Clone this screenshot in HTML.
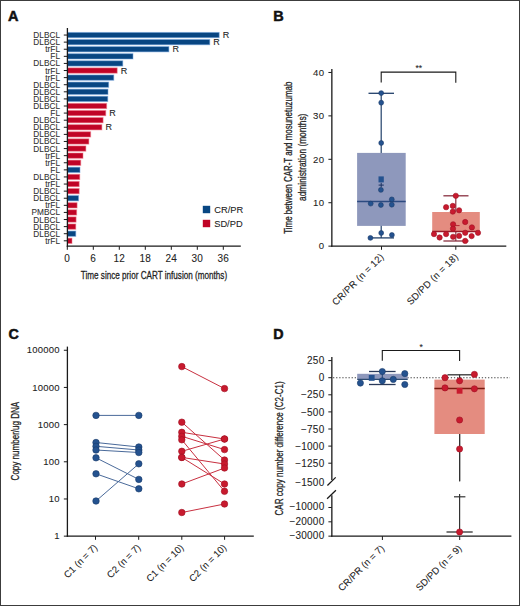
<!DOCTYPE html>
<html><head><meta charset="utf-8"><style>
html,body{margin:0;padding:0;background:#fff;}
body{width:520px;height:606px;overflow:hidden;position:relative;}
svg{position:absolute;left:0;top:0;}
text{font-family:"Liberation Sans",sans-serif;}
</style></head><body>
<svg width="520" height="606" viewBox="0 0 520 606">
<rect x="0" y="0" width="520" height="606" fill="#fff"/>
<text transform="translate(8.00,20.80)" font-size="14.5" text-anchor="start" fill="#111" stroke="#111" stroke-width="0.5" font-weight="bold">A</text>
<rect x="67.40" y="32.40" width="151.80" height="5.30" fill="#084682" stroke="#7aa8e0" stroke-width="0.9" stroke-opacity="0.6"/>
<line x1="63.80" y1="35.05" x2="67.40" y2="35.05" stroke="#1a1a1a" stroke-width="1.0"/>
<text transform="translate(60.00,38.05) scale(0.9300,1)" font-size="8.9" text-anchor="end" fill="#303030" stroke="#303030" stroke-width="0.08">DLBCL</text>
<text transform="translate(222.70,38.25)" font-size="9" text-anchor="start" fill="#222" stroke="#222" stroke-width="0.08">R</text>
<rect x="67.40" y="39.49" width="142.40" height="5.30" fill="#084682" stroke="#7aa8e0" stroke-width="0.9" stroke-opacity="0.6"/>
<line x1="63.80" y1="42.14" x2="67.40" y2="42.14" stroke="#1a1a1a" stroke-width="1.0"/>
<text transform="translate(60.00,45.14) scale(0.9300,1)" font-size="8.9" text-anchor="end" fill="#303030" stroke="#303030" stroke-width="0.08">DLBCL</text>
<text transform="translate(213.30,45.34)" font-size="9" text-anchor="start" fill="#222" stroke="#222" stroke-width="0.08">R</text>
<rect x="67.40" y="46.59" width="101.50" height="5.30" fill="#084682" stroke="#7aa8e0" stroke-width="0.9" stroke-opacity="0.6"/>
<line x1="63.80" y1="49.24" x2="67.40" y2="49.24" stroke="#1a1a1a" stroke-width="1.0"/>
<text transform="translate(60.00,52.24) scale(0.9300,1)" font-size="8.9" text-anchor="end" fill="#303030" stroke="#303030" stroke-width="0.08">trFL</text>
<text transform="translate(172.40,52.44)" font-size="9" text-anchor="start" fill="#222" stroke="#222" stroke-width="0.08">R</text>
<rect x="67.40" y="53.69" width="65.60" height="5.30" fill="#084682" stroke="#7aa8e0" stroke-width="0.9" stroke-opacity="0.6"/>
<line x1="63.80" y1="56.34" x2="67.40" y2="56.34" stroke="#1a1a1a" stroke-width="1.0"/>
<text transform="translate(60.00,59.34) scale(0.9300,1)" font-size="8.9" text-anchor="end" fill="#303030" stroke="#303030" stroke-width="0.08">FL</text>
<rect x="67.40" y="60.78" width="55.40" height="5.30" fill="#084682" stroke="#7aa8e0" stroke-width="0.9" stroke-opacity="0.6"/>
<line x1="63.80" y1="63.43" x2="67.40" y2="63.43" stroke="#1a1a1a" stroke-width="1.0"/>
<text transform="translate(60.00,66.43) scale(0.9300,1)" font-size="8.9" text-anchor="end" fill="#303030" stroke="#303030" stroke-width="0.08">DLBCL</text>
<rect x="67.40" y="67.88" width="49.80" height="5.30" fill="#c00426" stroke="#f08090" stroke-width="0.9" stroke-opacity="0.6"/>
<line x1="63.80" y1="70.53" x2="67.40" y2="70.53" stroke="#1a1a1a" stroke-width="1.0"/>
<text transform="translate(60.00,73.53) scale(0.9300,1)" font-size="8.9" text-anchor="end" fill="#303030" stroke="#303030" stroke-width="0.08">trFL</text>
<text transform="translate(120.70,73.73)" font-size="9" text-anchor="start" fill="#222" stroke="#222" stroke-width="0.08">R</text>
<rect x="67.40" y="74.97" width="46.40" height="5.30" fill="#084682" stroke="#7aa8e0" stroke-width="0.9" stroke-opacity="0.6"/>
<line x1="63.80" y1="77.62" x2="67.40" y2="77.62" stroke="#1a1a1a" stroke-width="1.0"/>
<text transform="translate(60.00,80.62) scale(0.9300,1)" font-size="8.9" text-anchor="end" fill="#303030" stroke="#303030" stroke-width="0.08">trFL</text>
<rect x="67.40" y="82.06" width="41.30" height="5.30" fill="#084682" stroke="#7aa8e0" stroke-width="0.9" stroke-opacity="0.6"/>
<line x1="63.80" y1="84.72" x2="67.40" y2="84.72" stroke="#1a1a1a" stroke-width="1.0"/>
<text transform="translate(60.00,87.72) scale(0.9300,1)" font-size="8.9" text-anchor="end" fill="#303030" stroke="#303030" stroke-width="0.08">DLBCL</text>
<rect x="67.40" y="89.16" width="40.60" height="5.30" fill="#084682" stroke="#7aa8e0" stroke-width="0.9" stroke-opacity="0.6"/>
<line x1="63.80" y1="91.81" x2="67.40" y2="91.81" stroke="#1a1a1a" stroke-width="1.0"/>
<text transform="translate(60.00,94.81) scale(0.9300,1)" font-size="8.9" text-anchor="end" fill="#303030" stroke="#303030" stroke-width="0.08">DLBCL</text>
<rect x="67.40" y="96.25" width="40.40" height="5.30" fill="#084682" stroke="#7aa8e0" stroke-width="0.9" stroke-opacity="0.6"/>
<line x1="63.80" y1="98.91" x2="67.40" y2="98.91" stroke="#1a1a1a" stroke-width="1.0"/>
<text transform="translate(60.00,101.91) scale(0.9300,1)" font-size="8.9" text-anchor="end" fill="#303030" stroke="#303030" stroke-width="0.08">DLBCL</text>
<rect x="67.40" y="103.35" width="39.30" height="5.30" fill="#c00426" stroke="#f08090" stroke-width="0.9" stroke-opacity="0.6"/>
<line x1="63.80" y1="106.00" x2="67.40" y2="106.00" stroke="#1a1a1a" stroke-width="1.0"/>
<text transform="translate(60.00,109.00) scale(0.9300,1)" font-size="8.9" text-anchor="end" fill="#303030" stroke="#303030" stroke-width="0.08">DLBCL</text>
<rect x="67.40" y="110.44" width="38.40" height="5.30" fill="#c00426" stroke="#f08090" stroke-width="0.9" stroke-opacity="0.6"/>
<line x1="63.80" y1="113.09" x2="67.40" y2="113.09" stroke="#1a1a1a" stroke-width="1.0"/>
<text transform="translate(60.00,116.09) scale(0.9300,1)" font-size="8.9" text-anchor="end" fill="#303030" stroke="#303030" stroke-width="0.08">FL</text>
<text transform="translate(109.30,116.30)" font-size="9" text-anchor="start" fill="#222" stroke="#222" stroke-width="0.08">R</text>
<rect x="67.40" y="117.54" width="35.70" height="5.30" fill="#c00426" stroke="#f08090" stroke-width="0.9" stroke-opacity="0.6"/>
<line x1="63.80" y1="120.19" x2="67.40" y2="120.19" stroke="#1a1a1a" stroke-width="1.0"/>
<text transform="translate(60.00,123.19) scale(0.9300,1)" font-size="8.9" text-anchor="end" fill="#303030" stroke="#303030" stroke-width="0.08">DLBCL</text>
<rect x="67.40" y="124.63" width="34.50" height="5.30" fill="#c00426" stroke="#f08090" stroke-width="0.9" stroke-opacity="0.6"/>
<line x1="63.80" y1="127.28" x2="67.40" y2="127.28" stroke="#1a1a1a" stroke-width="1.0"/>
<text transform="translate(60.00,130.28) scale(0.9300,1)" font-size="8.9" text-anchor="end" fill="#303030" stroke="#303030" stroke-width="0.08">DLBCL</text>
<text transform="translate(105.40,130.48)" font-size="9" text-anchor="start" fill="#222" stroke="#222" stroke-width="0.08">R</text>
<rect x="67.40" y="131.73" width="23.30" height="5.30" fill="#c00426" stroke="#f08090" stroke-width="0.9" stroke-opacity="0.6"/>
<line x1="63.80" y1="134.38" x2="67.40" y2="134.38" stroke="#1a1a1a" stroke-width="1.0"/>
<text transform="translate(60.00,137.38) scale(0.9300,1)" font-size="8.9" text-anchor="end" fill="#303030" stroke="#303030" stroke-width="0.08">DLBCL</text>
<rect x="67.40" y="138.82" width="21.50" height="5.30" fill="#c00426" stroke="#f08090" stroke-width="0.9" stroke-opacity="0.6"/>
<line x1="63.80" y1="141.47" x2="67.40" y2="141.47" stroke="#1a1a1a" stroke-width="1.0"/>
<text transform="translate(60.00,144.47) scale(0.9300,1)" font-size="8.9" text-anchor="end" fill="#303030" stroke="#303030" stroke-width="0.08">DLBCL</text>
<rect x="67.40" y="145.92" width="18.50" height="5.30" fill="#c00426" stroke="#f08090" stroke-width="0.9" stroke-opacity="0.6"/>
<line x1="63.80" y1="148.57" x2="67.40" y2="148.57" stroke="#1a1a1a" stroke-width="1.0"/>
<text transform="translate(60.00,151.57) scale(0.9300,1)" font-size="8.9" text-anchor="end" fill="#303030" stroke="#303030" stroke-width="0.08">DLBCL</text>
<rect x="67.40" y="153.01" width="15.60" height="5.30" fill="#c00426" stroke="#f08090" stroke-width="0.9" stroke-opacity="0.6"/>
<line x1="63.80" y1="155.66" x2="67.40" y2="155.66" stroke="#1a1a1a" stroke-width="1.0"/>
<text transform="translate(60.00,158.66) scale(0.9300,1)" font-size="8.9" text-anchor="end" fill="#303030" stroke="#303030" stroke-width="0.08">trFL</text>
<rect x="67.40" y="160.11" width="13.40" height="5.30" fill="#c00426" stroke="#f08090" stroke-width="0.9" stroke-opacity="0.6"/>
<line x1="63.80" y1="162.76" x2="67.40" y2="162.76" stroke="#1a1a1a" stroke-width="1.0"/>
<text transform="translate(60.00,165.76) scale(0.9300,1)" font-size="8.9" text-anchor="end" fill="#303030" stroke="#303030" stroke-width="0.08">trFL</text>
<rect x="67.40" y="167.21" width="12.60" height="5.30" fill="#084682" stroke="#7aa8e0" stroke-width="0.9" stroke-opacity="0.6"/>
<line x1="63.80" y1="169.86" x2="67.40" y2="169.86" stroke="#1a1a1a" stroke-width="1.0"/>
<text transform="translate(60.00,172.86) scale(0.9300,1)" font-size="8.9" text-anchor="end" fill="#303030" stroke="#303030" stroke-width="0.08">FL</text>
<rect x="67.40" y="174.30" width="12.40" height="5.30" fill="#c00426" stroke="#f08090" stroke-width="0.9" stroke-opacity="0.6"/>
<line x1="63.80" y1="176.95" x2="67.40" y2="176.95" stroke="#1a1a1a" stroke-width="1.0"/>
<text transform="translate(60.00,179.95) scale(0.9300,1)" font-size="8.9" text-anchor="end" fill="#303030" stroke="#303030" stroke-width="0.08">DLBCL</text>
<rect x="67.40" y="181.40" width="11.80" height="5.30" fill="#c00426" stroke="#f08090" stroke-width="0.9" stroke-opacity="0.6"/>
<line x1="63.80" y1="184.05" x2="67.40" y2="184.05" stroke="#1a1a1a" stroke-width="1.0"/>
<text transform="translate(60.00,187.05) scale(0.9300,1)" font-size="8.9" text-anchor="end" fill="#303030" stroke="#303030" stroke-width="0.08">trFL</text>
<rect x="67.40" y="188.49" width="11.80" height="5.30" fill="#c00426" stroke="#f08090" stroke-width="0.9" stroke-opacity="0.6"/>
<line x1="63.80" y1="191.14" x2="67.40" y2="191.14" stroke="#1a1a1a" stroke-width="1.0"/>
<text transform="translate(60.00,194.14) scale(0.9300,1)" font-size="8.9" text-anchor="end" fill="#303030" stroke="#303030" stroke-width="0.08">DLBCL</text>
<rect x="67.40" y="195.59" width="11.20" height="5.30" fill="#084682" stroke="#7aa8e0" stroke-width="0.9" stroke-opacity="0.6"/>
<line x1="63.80" y1="198.24" x2="67.40" y2="198.24" stroke="#1a1a1a" stroke-width="1.0"/>
<text transform="translate(60.00,201.24) scale(0.9300,1)" font-size="8.9" text-anchor="end" fill="#303030" stroke="#303030" stroke-width="0.08">DLBCL</text>
<rect x="67.40" y="202.68" width="9.70" height="5.30" fill="#c00426" stroke="#f08090" stroke-width="0.9" stroke-opacity="0.6"/>
<line x1="63.80" y1="205.33" x2="67.40" y2="205.33" stroke="#1a1a1a" stroke-width="1.0"/>
<text transform="translate(60.00,208.33) scale(0.9300,1)" font-size="8.9" text-anchor="end" fill="#303030" stroke="#303030" stroke-width="0.08">trFL</text>
<rect x="67.40" y="209.78" width="9.30" height="5.30" fill="#c00426" stroke="#f08090" stroke-width="0.9" stroke-opacity="0.6"/>
<line x1="63.80" y1="212.43" x2="67.40" y2="212.43" stroke="#1a1a1a" stroke-width="1.0"/>
<text transform="translate(60.00,215.43) scale(0.9300,1)" font-size="8.9" text-anchor="end" fill="#303030" stroke="#303030" stroke-width="0.08">PMBCL</text>
<rect x="67.40" y="216.87" width="8.70" height="5.30" fill="#c00426" stroke="#f08090" stroke-width="0.9" stroke-opacity="0.6"/>
<line x1="63.80" y1="219.52" x2="67.40" y2="219.52" stroke="#1a1a1a" stroke-width="1.0"/>
<text transform="translate(60.00,222.52) scale(0.9300,1)" font-size="8.9" text-anchor="end" fill="#303030" stroke="#303030" stroke-width="0.08">DLBCL</text>
<rect x="67.40" y="223.97" width="8.40" height="5.30" fill="#c00426" stroke="#f08090" stroke-width="0.9" stroke-opacity="0.6"/>
<line x1="63.80" y1="226.62" x2="67.40" y2="226.62" stroke="#1a1a1a" stroke-width="1.0"/>
<text transform="translate(60.00,229.62) scale(0.9300,1)" font-size="8.9" text-anchor="end" fill="#303030" stroke="#303030" stroke-width="0.08">DLBCL</text>
<rect x="67.40" y="231.06" width="8.40" height="5.30" fill="#084682" stroke="#7aa8e0" stroke-width="0.9" stroke-opacity="0.6"/>
<line x1="63.80" y1="233.71" x2="67.40" y2="233.71" stroke="#1a1a1a" stroke-width="1.0"/>
<text transform="translate(60.00,236.71) scale(0.9300,1)" font-size="8.9" text-anchor="end" fill="#303030" stroke="#303030" stroke-width="0.08">DLBCL</text>
<rect x="67.40" y="238.16" width="4.60" height="5.30" fill="#c00426" stroke="#f08090" stroke-width="0.9" stroke-opacity="0.6"/>
<line x1="63.80" y1="240.81" x2="67.40" y2="240.81" stroke="#1a1a1a" stroke-width="1.0"/>
<text transform="translate(60.00,243.81) scale(0.9300,1)" font-size="8.9" text-anchor="end" fill="#303030" stroke="#303030" stroke-width="0.08">trFL</text>
<line x1="67.40" y1="28.00" x2="67.40" y2="246.80" stroke="#1a1a1a" stroke-width="1.3"/>
<line x1="66.80" y1="246.20" x2="240.80" y2="246.20" stroke="#1a1a1a" stroke-width="1.3"/>
<line x1="67.30" y1="246.20" x2="67.30" y2="249.80" stroke="#1a1a1a" stroke-width="1.0"/>
<text transform="translate(67.30,262.20)" font-size="10" text-anchor="middle" fill="#222" stroke="#222" stroke-width="0.08" letter-spacing="0.3">0</text>
<line x1="93.30" y1="246.20" x2="93.30" y2="249.80" stroke="#1a1a1a" stroke-width="1.0"/>
<text transform="translate(93.30,262.20)" font-size="10" text-anchor="middle" fill="#222" stroke="#222" stroke-width="0.08" letter-spacing="0.3">6</text>
<line x1="119.30" y1="246.20" x2="119.30" y2="249.80" stroke="#1a1a1a" stroke-width="1.0"/>
<text transform="translate(119.30,262.20)" font-size="10" text-anchor="middle" fill="#222" stroke="#222" stroke-width="0.08" letter-spacing="0.3">12</text>
<line x1="145.30" y1="246.20" x2="145.30" y2="249.80" stroke="#1a1a1a" stroke-width="1.0"/>
<text transform="translate(145.30,262.20)" font-size="10" text-anchor="middle" fill="#222" stroke="#222" stroke-width="0.08" letter-spacing="0.3">18</text>
<line x1="171.30" y1="246.20" x2="171.30" y2="249.80" stroke="#1a1a1a" stroke-width="1.0"/>
<text transform="translate(171.30,262.20)" font-size="10" text-anchor="middle" fill="#222" stroke="#222" stroke-width="0.08" letter-spacing="0.3">24</text>
<line x1="197.30" y1="246.20" x2="197.30" y2="249.80" stroke="#1a1a1a" stroke-width="1.0"/>
<text transform="translate(197.30,262.20)" font-size="10" text-anchor="middle" fill="#222" stroke="#222" stroke-width="0.08" letter-spacing="0.3">30</text>
<line x1="223.30" y1="246.20" x2="223.30" y2="249.80" stroke="#1a1a1a" stroke-width="1.0"/>
<text transform="translate(223.30,262.20)" font-size="10" text-anchor="middle" fill="#222" stroke="#222" stroke-width="0.08" letter-spacing="0.3">36</text>
<text transform="translate(80.80,278.80) scale(0.7083,1)" font-size="11.5" text-anchor="start" fill="#222" stroke="#222" stroke-width="0.28">Time since prior CART infusion (months)</text>
<rect x="202.80" y="205.80" width="7.40" height="7.40" fill="#084682"/>
<rect x="202.80" y="219.80" width="7.40" height="7.40" fill="#c00426"/>
<text transform="translate(214.20,212.80)" font-size="9.3" text-anchor="start" fill="#222" stroke="#222" stroke-width="0.08">CR/PR</text>
<text transform="translate(214.20,226.80)" font-size="9.3" text-anchor="start" fill="#222" stroke="#222" stroke-width="0.08">SD/PD</text>
<text transform="translate(273.30,20.80)" font-size="14.5" text-anchor="start" fill="#111" stroke="#111" stroke-width="0.5" font-weight="bold">B</text>
<line x1="331.85" y1="69.10" x2="331.85" y2="246.80" stroke="#1a1a1a" stroke-width="1.3"/>
<line x1="331.20" y1="246.20" x2="506.30" y2="246.20" stroke="#1a1a1a" stroke-width="1.3"/>
<line x1="328.40" y1="246.15" x2="331.80" y2="246.15" stroke="#1a1a1a" stroke-width="1.0"/>
<text transform="translate(324.40,249.45)" font-size="9.6" text-anchor="end" fill="#222" stroke="#222" stroke-width="0.08" letter-spacing="0.3">0</text>
<line x1="328.40" y1="202.73" x2="331.80" y2="202.73" stroke="#1a1a1a" stroke-width="1.0"/>
<text transform="translate(324.40,206.03)" font-size="9.6" text-anchor="end" fill="#222" stroke="#222" stroke-width="0.08" letter-spacing="0.3">10</text>
<line x1="328.40" y1="159.31" x2="331.80" y2="159.31" stroke="#1a1a1a" stroke-width="1.0"/>
<text transform="translate(324.40,162.61)" font-size="9.6" text-anchor="end" fill="#222" stroke="#222" stroke-width="0.08" letter-spacing="0.3">20</text>
<line x1="328.40" y1="115.89" x2="331.80" y2="115.89" stroke="#1a1a1a" stroke-width="1.0"/>
<text transform="translate(324.40,119.19)" font-size="9.6" text-anchor="end" fill="#222" stroke="#222" stroke-width="0.08" letter-spacing="0.3">30</text>
<line x1="328.40" y1="72.47" x2="331.80" y2="72.47" stroke="#1a1a1a" stroke-width="1.0"/>
<text transform="translate(324.40,75.77)" font-size="9.6" text-anchor="end" fill="#222" stroke="#222" stroke-width="0.08" letter-spacing="0.3">40</text>
<text transform="translate(292.00,157.70) rotate(-90) scale(0.6907,1)" font-size="11.5" text-anchor="middle" fill="#222" stroke="#222" stroke-width="0.28">Time between CAR-T and mosunetuzumab</text>
<text transform="translate(305.90,157.30) rotate(-90) scale(0.7266,1)" font-size="11.5" text-anchor="middle" fill="#222" stroke="#222" stroke-width="0.28">administration (months)</text>
<path d="M381.2 82.4 V72.1 H455.8 V82.7" fill="none" stroke="#1a1a1a" stroke-width="1.1"/>
<text transform="translate(418.70,71.40)" font-size="8.5" text-anchor="middle" fill="#222" stroke="#222" stroke-width="0.08">**</text>
<line x1="381.20" y1="93.30" x2="381.20" y2="237.90" stroke="#22406a" stroke-width="1.2"/>
<rect x="357.10" y="152.90" width="48.60" height="73.00" fill="#8e98bc"/>
<line x1="357.10" y1="201.50" x2="405.70" y2="201.50" stroke="#2c4a80" stroke-width="1.3"/>
<line x1="368.50" y1="93.30" x2="394.00" y2="93.30" stroke="#22406a" stroke-width="1.3"/>
<line x1="368.50" y1="237.90" x2="394.00" y2="237.90" stroke="#22406a" stroke-width="1.3"/>
<circle cx="381.20" cy="93.10" r="2.45" fill="#24528f" stroke="#1a3a6a" stroke-width="0.6"/>
<circle cx="381.20" cy="102.70" r="2.45" fill="#24528f" stroke="#1a3a6a" stroke-width="0.6"/>
<circle cx="381.20" cy="143.00" r="2.45" fill="#24528f" stroke="#1a3a6a" stroke-width="0.6"/>
<circle cx="380.90" cy="189.90" r="2.45" fill="#24528f" stroke="#1a3a6a" stroke-width="0.6"/>
<circle cx="370.70" cy="203.60" r="2.45" fill="#24528f" stroke="#1a3a6a" stroke-width="0.6"/>
<circle cx="380.90" cy="205.00" r="2.45" fill="#24528f" stroke="#1a3a6a" stroke-width="0.6"/>
<circle cx="391.80" cy="199.40" r="2.45" fill="#24528f" stroke="#1a3a6a" stroke-width="0.6"/>
<circle cx="391.80" cy="204.70" r="2.45" fill="#24528f" stroke="#1a3a6a" stroke-width="0.6"/>
<circle cx="381.20" cy="233.00" r="2.45" fill="#24528f" stroke="#1a3a6a" stroke-width="0.6"/>
<circle cx="370.40" cy="237.90" r="2.45" fill="#24528f" stroke="#1a3a6a" stroke-width="0.6"/>
<circle cx="391.90" cy="235.00" r="2.45" fill="#24528f" stroke="#1a3a6a" stroke-width="0.6"/>
<rect x="378.50" y="176.40" width="5.30" height="6.00" fill="#24528f"/>
<path d="M378.6 185.1 H383.8 M381.2 182.8 V187.2" stroke="#1a3060" stroke-width="1"/>
<line x1="455.80" y1="195.80" x2="455.80" y2="241.00" stroke="#8a3040" stroke-width="1.2"/>
<rect x="432.20" y="212.00" width="47.60" height="19.50" fill="#e48c80"/>
<line x1="432.20" y1="231.50" x2="479.80" y2="231.50" stroke="#9a1a28" stroke-width="1.3"/>
<line x1="443.40" y1="195.80" x2="468.50" y2="195.80" stroke="#8a3040" stroke-width="1.3"/>
<line x1="443.40" y1="241.00" x2="468.50" y2="241.00" stroke="#8a3040" stroke-width="1.3"/>
<circle cx="455.80" cy="195.80" r="2.65" fill="#c81a2e" stroke="#a01024" stroke-width="0.6"/>
<circle cx="446.10" cy="207.20" r="2.65" fill="#c81a2e" stroke="#a01024" stroke-width="0.6"/>
<circle cx="452.80" cy="205.90" r="2.65" fill="#c81a2e" stroke="#a01024" stroke-width="0.6"/>
<circle cx="452.80" cy="211.60" r="2.65" fill="#c81a2e" stroke="#a01024" stroke-width="0.6"/>
<circle cx="459.10" cy="210.30" r="2.65" fill="#c81a2e" stroke="#a01024" stroke-width="0.6"/>
<circle cx="465.20" cy="222.00" r="2.65" fill="#c81a2e" stroke="#a01024" stroke-width="0.6"/>
<circle cx="453.10" cy="224.30" r="2.65" fill="#c81a2e" stroke="#a01024" stroke-width="0.6"/>
<circle cx="471.90" cy="227.40" r="2.65" fill="#c81a2e" stroke="#a01024" stroke-width="0.6"/>
<circle cx="453.00" cy="228.70" r="2.65" fill="#c81a2e" stroke="#a01024" stroke-width="0.6"/>
<circle cx="434.00" cy="234.10" r="2.65" fill="#c81a2e" stroke="#a01024" stroke-width="0.6"/>
<circle cx="439.60" cy="237.50" r="2.65" fill="#c81a2e" stroke="#a01024" stroke-width="0.6"/>
<circle cx="446.10" cy="234.10" r="2.65" fill="#c81a2e" stroke="#a01024" stroke-width="0.6"/>
<circle cx="453.10" cy="236.80" r="2.65" fill="#c81a2e" stroke="#a01024" stroke-width="0.6"/>
<circle cx="459.10" cy="235.90" r="2.65" fill="#c81a2e" stroke="#a01024" stroke-width="0.6"/>
<circle cx="465.20" cy="232.80" r="2.65" fill="#c81a2e" stroke="#a01024" stroke-width="0.6"/>
<circle cx="471.60" cy="236.10" r="2.65" fill="#c81a2e" stroke="#a01024" stroke-width="0.6"/>
<circle cx="478.00" cy="232.80" r="2.65" fill="#c81a2e" stroke="#a01024" stroke-width="0.6"/>
<circle cx="465.20" cy="240.90" r="2.65" fill="#c81a2e" stroke="#a01024" stroke-width="0.6"/>
<line x1="455.00" y1="225.60" x2="459.60" y2="225.60" stroke="#b01828" stroke-width="0.9"/>
<line x1="381.50" y1="246.20" x2="381.50" y2="249.80" stroke="#1a1a1a" stroke-width="1.0"/>
<line x1="455.80" y1="246.20" x2="455.80" y2="249.80" stroke="#1a1a1a" stroke-width="1.0"/>
<text transform="translate(384.50,257.40) rotate(-45)" font-size="9.6" text-anchor="end" fill="#222" stroke="#222" stroke-width="0.08" letter-spacing="0.2">CR/PR (n = 12)</text>
<text transform="translate(458.80,257.40) rotate(-45)" font-size="9.6" text-anchor="end" fill="#222" stroke="#222" stroke-width="0.08" letter-spacing="0.2">SD/PD (n = 18)</text>
<text transform="translate(8.40,339.00)" font-size="14.3" text-anchor="start" fill="#111" stroke="#111" stroke-width="0.5" font-weight="bold">C</text>
<line x1="67.40" y1="346.60" x2="67.40" y2="536.80" stroke="#1a1a1a" stroke-width="1.3"/>
<line x1="66.80" y1="536.15" x2="253.80" y2="536.15" stroke="#1a1a1a" stroke-width="1.3"/>
<line x1="63.85" y1="536.15" x2="67.40" y2="536.15" stroke="#1a1a1a" stroke-width="1.0"/>
<text transform="translate(59.90,539.35)" font-size="9.5" text-anchor="end" fill="#222" stroke="#222" stroke-width="0.08" letter-spacing="0.25">1</text>
<line x1="63.85" y1="498.97" x2="67.40" y2="498.97" stroke="#1a1a1a" stroke-width="1.0"/>
<text transform="translate(59.90,502.17)" font-size="9.5" text-anchor="end" fill="#222" stroke="#222" stroke-width="0.08" letter-spacing="0.25">10</text>
<line x1="63.85" y1="461.79" x2="67.40" y2="461.79" stroke="#1a1a1a" stroke-width="1.0"/>
<text transform="translate(59.90,464.99)" font-size="9.5" text-anchor="end" fill="#222" stroke="#222" stroke-width="0.08" letter-spacing="0.25">100</text>
<line x1="63.85" y1="424.61" x2="67.40" y2="424.61" stroke="#1a1a1a" stroke-width="1.0"/>
<text transform="translate(59.90,427.81)" font-size="9.5" text-anchor="end" fill="#222" stroke="#222" stroke-width="0.08" letter-spacing="0.25">1000</text>
<line x1="63.85" y1="387.43" x2="67.40" y2="387.43" stroke="#1a1a1a" stroke-width="1.0"/>
<text transform="translate(59.90,390.63)" font-size="9.5" text-anchor="end" fill="#222" stroke="#222" stroke-width="0.08" letter-spacing="0.25">10000</text>
<line x1="63.85" y1="350.25" x2="67.40" y2="350.25" stroke="#1a1a1a" stroke-width="1.0"/>
<text transform="translate(59.90,353.45)" font-size="9.5" text-anchor="end" fill="#222" stroke="#222" stroke-width="0.08" letter-spacing="0.25">100000</text>
<text transform="translate(19.10,441.10) rotate(-90) scale(0.7005,1)" font-size="11.5" text-anchor="middle" fill="#222" stroke="#222" stroke-width="0.28">Copy number/ug DNA</text>
<line x1="96.00" y1="415.40" x2="138.80" y2="415.40" stroke="#4a6a9a" stroke-width="1"/>
<line x1="96.00" y1="442.50" x2="138.80" y2="447.00" stroke="#4a6a9a" stroke-width="1"/>
<line x1="96.00" y1="446.30" x2="138.80" y2="450.00" stroke="#4a6a9a" stroke-width="1"/>
<line x1="96.00" y1="450.00" x2="138.80" y2="452.50" stroke="#4a6a9a" stroke-width="1"/>
<line x1="96.00" y1="457.80" x2="138.80" y2="479.40" stroke="#4a6a9a" stroke-width="1"/>
<line x1="96.00" y1="473.80" x2="138.80" y2="488.80" stroke="#4a6a9a" stroke-width="1"/>
<line x1="96.00" y1="501.00" x2="138.80" y2="463.80" stroke="#4a6a9a" stroke-width="1"/>
<circle cx="96.00" cy="415.40" r="3.25" fill="#24528f" stroke="#1a3a6a" stroke-width="0.6"/>
<circle cx="138.80" cy="415.40" r="3.25" fill="#24528f" stroke="#1a3a6a" stroke-width="0.6"/>
<circle cx="96.00" cy="442.50" r="3.25" fill="#24528f" stroke="#1a3a6a" stroke-width="0.6"/>
<circle cx="138.80" cy="447.00" r="3.25" fill="#24528f" stroke="#1a3a6a" stroke-width="0.6"/>
<circle cx="96.00" cy="446.30" r="3.25" fill="#24528f" stroke="#1a3a6a" stroke-width="0.6"/>
<circle cx="138.80" cy="450.00" r="3.25" fill="#24528f" stroke="#1a3a6a" stroke-width="0.6"/>
<circle cx="96.00" cy="450.00" r="3.25" fill="#24528f" stroke="#1a3a6a" stroke-width="0.6"/>
<circle cx="138.80" cy="452.50" r="3.25" fill="#24528f" stroke="#1a3a6a" stroke-width="0.6"/>
<circle cx="96.00" cy="457.80" r="3.25" fill="#24528f" stroke="#1a3a6a" stroke-width="0.6"/>
<circle cx="138.80" cy="479.40" r="3.25" fill="#24528f" stroke="#1a3a6a" stroke-width="0.6"/>
<circle cx="96.00" cy="473.80" r="3.25" fill="#24528f" stroke="#1a3a6a" stroke-width="0.6"/>
<circle cx="138.80" cy="488.80" r="3.25" fill="#24528f" stroke="#1a3a6a" stroke-width="0.6"/>
<circle cx="96.00" cy="501.00" r="3.25" fill="#24528f" stroke="#1a3a6a" stroke-width="0.6"/>
<circle cx="138.80" cy="463.80" r="3.25" fill="#24528f" stroke="#1a3a6a" stroke-width="0.6"/>
<line x1="181.80" y1="366.60" x2="224.50" y2="388.60" stroke="#c83040" stroke-width="1"/>
<line x1="181.80" y1="422.20" x2="224.50" y2="460.00" stroke="#c83040" stroke-width="1"/>
<line x1="181.80" y1="432.30" x2="224.50" y2="439.00" stroke="#c83040" stroke-width="1"/>
<line x1="181.80" y1="436.30" x2="224.50" y2="449.60" stroke="#c83040" stroke-width="1"/>
<line x1="181.80" y1="439.80" x2="224.50" y2="491.30" stroke="#c83040" stroke-width="1"/>
<line x1="181.80" y1="451.30" x2="224.50" y2="439.00" stroke="#c83040" stroke-width="1"/>
<line x1="181.80" y1="457.40" x2="224.50" y2="464.00" stroke="#c83040" stroke-width="1"/>
<line x1="181.80" y1="457.40" x2="224.50" y2="484.00" stroke="#c83040" stroke-width="1"/>
<line x1="181.80" y1="484.00" x2="224.50" y2="468.00" stroke="#c83040" stroke-width="1"/>
<line x1="181.80" y1="512.50" x2="224.50" y2="504.00" stroke="#c83040" stroke-width="1"/>
<circle cx="181.80" cy="366.60" r="3.25" fill="#c81a2e" stroke="#a01024" stroke-width="0.6"/>
<circle cx="224.50" cy="388.60" r="3.25" fill="#c81a2e" stroke="#a01024" stroke-width="0.6"/>
<circle cx="181.80" cy="422.20" r="3.25" fill="#c81a2e" stroke="#a01024" stroke-width="0.6"/>
<circle cx="224.50" cy="460.00" r="3.25" fill="#c81a2e" stroke="#a01024" stroke-width="0.6"/>
<circle cx="181.80" cy="432.30" r="3.25" fill="#c81a2e" stroke="#a01024" stroke-width="0.6"/>
<circle cx="224.50" cy="439.00" r="3.25" fill="#c81a2e" stroke="#a01024" stroke-width="0.6"/>
<circle cx="181.80" cy="436.30" r="3.25" fill="#c81a2e" stroke="#a01024" stroke-width="0.6"/>
<circle cx="224.50" cy="449.60" r="3.25" fill="#c81a2e" stroke="#a01024" stroke-width="0.6"/>
<circle cx="181.80" cy="439.80" r="3.25" fill="#c81a2e" stroke="#a01024" stroke-width="0.6"/>
<circle cx="224.50" cy="491.30" r="3.25" fill="#c81a2e" stroke="#a01024" stroke-width="0.6"/>
<circle cx="181.80" cy="451.30" r="3.25" fill="#c81a2e" stroke="#a01024" stroke-width="0.6"/>
<circle cx="224.50" cy="439.00" r="3.25" fill="#c81a2e" stroke="#a01024" stroke-width="0.6"/>
<circle cx="181.80" cy="457.40" r="3.25" fill="#c81a2e" stroke="#a01024" stroke-width="0.6"/>
<circle cx="224.50" cy="464.00" r="3.25" fill="#c81a2e" stroke="#a01024" stroke-width="0.6"/>
<circle cx="181.80" cy="457.40" r="3.25" fill="#c81a2e" stroke="#a01024" stroke-width="0.6"/>
<circle cx="224.50" cy="484.00" r="3.25" fill="#c81a2e" stroke="#a01024" stroke-width="0.6"/>
<circle cx="181.80" cy="484.00" r="3.25" fill="#c81a2e" stroke="#a01024" stroke-width="0.6"/>
<circle cx="224.50" cy="468.00" r="3.25" fill="#c81a2e" stroke="#a01024" stroke-width="0.6"/>
<circle cx="181.80" cy="512.50" r="3.25" fill="#c81a2e" stroke="#a01024" stroke-width="0.6"/>
<circle cx="224.50" cy="504.00" r="3.25" fill="#c81a2e" stroke="#a01024" stroke-width="0.6"/>
<line x1="95.50" y1="536.15" x2="95.50" y2="539.80" stroke="#1a1a1a" stroke-width="1.0"/>
<text transform="translate(98.00,548.30) rotate(-45)" font-size="9.6" text-anchor="end" fill="#222" stroke="#222" stroke-width="0.08">C1 (n = 7)</text>
<line x1="138.70" y1="536.15" x2="138.70" y2="539.80" stroke="#1a1a1a" stroke-width="1.0"/>
<text transform="translate(141.20,548.30) rotate(-45)" font-size="9.6" text-anchor="end" fill="#222" stroke="#222" stroke-width="0.08">C2 (n = 7)</text>
<line x1="181.80" y1="536.15" x2="181.80" y2="539.80" stroke="#1a1a1a" stroke-width="1.0"/>
<text transform="translate(184.30,548.30) rotate(-45)" font-size="9.6" text-anchor="end" fill="#222" stroke="#222" stroke-width="0.08">C1 (n = 10)</text>
<line x1="224.60" y1="536.15" x2="224.60" y2="539.80" stroke="#1a1a1a" stroke-width="1.0"/>
<text transform="translate(227.10,548.30) rotate(-45)" font-size="9.6" text-anchor="end" fill="#222" stroke="#222" stroke-width="0.08">C2 (n = 10)</text>
<text transform="translate(273.20,338.80)" font-size="14.3" text-anchor="start" fill="#111" stroke="#111" stroke-width="0.5" font-weight="bold">D</text>
<line x1="331.85" y1="357.10" x2="331.85" y2="480.00" stroke="#1a1a1a" stroke-width="1.3"/>
<line x1="331.85" y1="495.30" x2="331.85" y2="536.80" stroke="#1a1a1a" stroke-width="1.3"/>
<line x1="327.40" y1="485.50" x2="335.70" y2="477.40" stroke="#1a1a1a" stroke-width="1.3"/>
<line x1="327.10" y1="498.70" x2="335.90" y2="490.20" stroke="#1a1a1a" stroke-width="1.3"/>
<line x1="331.20" y1="536.15" x2="511.40" y2="536.15" stroke="#1a1a1a" stroke-width="1.3"/>
<line x1="328.30" y1="360.60" x2="331.85" y2="360.60" stroke="#1a1a1a" stroke-width="1.0"/>
<text transform="translate(324.40,364.20)" font-size="10" text-anchor="end" fill="#222" stroke="#222" stroke-width="0.08" letter-spacing="0.2">250</text>
<line x1="328.30" y1="377.70" x2="331.85" y2="377.70" stroke="#1a1a1a" stroke-width="1.0"/>
<text transform="translate(324.40,381.30)" font-size="10" text-anchor="end" fill="#222" stroke="#222" stroke-width="0.08" letter-spacing="0.2">0</text>
<line x1="328.30" y1="394.80" x2="331.85" y2="394.80" stroke="#1a1a1a" stroke-width="1.0"/>
<text transform="translate(324.40,398.40)" font-size="10" text-anchor="end" fill="#222" stroke="#222" stroke-width="0.08" letter-spacing="0.2">−250</text>
<line x1="328.30" y1="411.90" x2="331.85" y2="411.90" stroke="#1a1a1a" stroke-width="1.0"/>
<text transform="translate(324.40,415.50)" font-size="10" text-anchor="end" fill="#222" stroke="#222" stroke-width="0.08" letter-spacing="0.2">−500</text>
<line x1="328.30" y1="429.00" x2="331.85" y2="429.00" stroke="#1a1a1a" stroke-width="1.0"/>
<text transform="translate(324.40,432.60)" font-size="10" text-anchor="end" fill="#222" stroke="#222" stroke-width="0.08" letter-spacing="0.2">−750</text>
<line x1="328.30" y1="446.10" x2="331.85" y2="446.10" stroke="#1a1a1a" stroke-width="1.0"/>
<text transform="translate(324.40,449.70)" font-size="10" text-anchor="end" fill="#222" stroke="#222" stroke-width="0.08" letter-spacing="0.2">−1000</text>
<line x1="328.30" y1="463.20" x2="331.85" y2="463.20" stroke="#1a1a1a" stroke-width="1.0"/>
<text transform="translate(324.40,466.80)" font-size="10" text-anchor="end" fill="#222" stroke="#222" stroke-width="0.08" letter-spacing="0.2">−1250</text>
<text transform="translate(324.40,485.50)" font-size="10" text-anchor="end" fill="#222" stroke="#222" stroke-width="0.08" letter-spacing="0.2">−1500</text>
<line x1="328.40" y1="507.49" x2="331.80" y2="507.49" stroke="#1a1a1a" stroke-width="1.0"/>
<text transform="translate(324.40,510.39)" font-size="10" text-anchor="end" fill="#222" stroke="#222" stroke-width="0.08" letter-spacing="0.2">−10000</text>
<line x1="328.40" y1="521.82" x2="331.80" y2="521.82" stroke="#1a1a1a" stroke-width="1.0"/>
<text transform="translate(324.40,524.72)" font-size="10" text-anchor="end" fill="#222" stroke="#222" stroke-width="0.08" letter-spacing="0.2">−20000</text>
<line x1="328.40" y1="536.15" x2="331.80" y2="536.15" stroke="#1a1a1a" stroke-width="1.0"/>
<text transform="translate(324.40,539.05)" font-size="10" text-anchor="end" fill="#222" stroke="#222" stroke-width="0.08" letter-spacing="0.2">−30000</text>
<text transform="translate(283.40,448.40) rotate(-90) scale(0.7018,1)" font-size="11.5" text-anchor="middle" fill="#222" stroke="#222" stroke-width="0.28">CAR copy number difference (C2-C1)</text>
<line x1="333.00" y1="377.70" x2="510.00" y2="377.70" stroke="#444" stroke-width="1.1" stroke-dasharray="1.3 1.8"/>
<path d="M382.3 360.8 V350.5 H459.6 V361" fill="none" stroke="#1a1a1a" stroke-width="1.1"/>
<text transform="translate(421.20,349.60)" font-size="8.5" text-anchor="middle" fill="#222" stroke="#222" stroke-width="0.08">*</text>
<rect x="357.20" y="373.80" width="50.50" height="5.40" fill="#8e98bc"/>
<line x1="382.30" y1="371.50" x2="382.30" y2="384.50" stroke="#2a4a7a" stroke-width="1.1"/>
<line x1="357.20" y1="379.40" x2="407.70" y2="379.40" stroke="#2c4a70" stroke-width="1.3"/>
<line x1="369.00" y1="371.50" x2="395.60" y2="371.50" stroke="#2a3a5a" stroke-width="1.3"/>
<line x1="369.00" y1="384.50" x2="395.60" y2="384.50" stroke="#2a3a5a" stroke-width="1.3"/>
<circle cx="360.40" cy="383.10" r="3.1" fill="#24528f" stroke="#1a3a6a" stroke-width="0.6"/>
<circle cx="382.30" cy="371.50" r="3.1" fill="#24528f" stroke="#1a3a6a" stroke-width="0.6"/>
<circle cx="382.30" cy="380.80" r="3.1" fill="#24528f" stroke="#1a3a6a" stroke-width="0.6"/>
<circle cx="393.30" cy="379.40" r="3.1" fill="#24528f" stroke="#1a3a6a" stroke-width="0.6"/>
<circle cx="404.80" cy="373.60" r="3.1" fill="#24528f" stroke="#1a3a6a" stroke-width="0.6"/>
<circle cx="404.80" cy="384.50" r="3.1" fill="#24528f" stroke="#1a3a6a" stroke-width="0.6"/>
<rect x="368.80" y="375.00" width="5.80" height="5.80" fill="#24528f"/>
<line x1="459.60" y1="374.80" x2="459.60" y2="481.20" stroke="#333" stroke-width="1.2"/>
<rect x="434.40" y="379.60" width="50.30" height="54.40" fill="#e48c80"/>
<line x1="434.40" y1="388.50" x2="484.70" y2="388.50" stroke="#7a1a10" stroke-width="1.4"/>
<line x1="447.50" y1="374.80" x2="473.00" y2="374.80" stroke="#333" stroke-width="1.3"/>
<line x1="459.60" y1="434.00" x2="459.60" y2="481.20" stroke="#333" stroke-width="1.2"/>
<line x1="459.60" y1="494.00" x2="459.60" y2="532.00" stroke="#333" stroke-width="1.2"/>
<line x1="454.00" y1="496.80" x2="465.40" y2="496.80" stroke="#333" stroke-width="1.2"/>
<line x1="446.50" y1="532.00" x2="472.70" y2="532.00" stroke="#333" stroke-width="1.3"/>
<circle cx="445.00" cy="377.70" r="3.1" fill="#c81a2e" stroke="#a01024" stroke-width="0.6"/>
<circle cx="474.40" cy="374.40" r="3.1" fill="#c81a2e" stroke="#a01024" stroke-width="0.6"/>
<circle cx="459.60" cy="380.80" r="3.1" fill="#c81a2e" stroke="#a01024" stroke-width="0.6"/>
<circle cx="445.00" cy="387.90" r="3.1" fill="#c81a2e" stroke="#a01024" stroke-width="0.6"/>
<circle cx="474.40" cy="388.80" r="3.1" fill="#c81a2e" stroke="#a01024" stroke-width="0.6"/>
<circle cx="459.60" cy="420.00" r="3.1" fill="#c81a2e" stroke="#a01024" stroke-width="0.6"/>
<circle cx="459.60" cy="449.00" r="3.1" fill="#c81a2e" stroke="#a01024" stroke-width="0.6"/>
<circle cx="459.60" cy="532.00" r="3.1" fill="#c81a2e" stroke="#a01024" stroke-width="0.6"/>
<rect x="456.70" y="387.90" width="5.80" height="5.80" fill="#c81a2e"/>
<line x1="382.40" y1="536.15" x2="382.40" y2="540.00" stroke="#1a1a1a" stroke-width="1.0"/>
<text transform="translate(384.90,549.00) rotate(-45)" font-size="9.6" text-anchor="end" fill="#222" stroke="#222" stroke-width="0.08">CR/PR (n = 7)</text>
<line x1="459.70" y1="536.15" x2="459.70" y2="540.00" stroke="#1a1a1a" stroke-width="1.0"/>
<text transform="translate(462.20,549.00) rotate(-45)" font-size="9.6" text-anchor="end" fill="#222" stroke="#222" stroke-width="0.08">SD/PD (n = 9)</text>
<rect x="0.5" y="0.5" width="519" height="605" fill="none" stroke="#3c3c3c" stroke-width="1"/>
</svg>
</body></html>
